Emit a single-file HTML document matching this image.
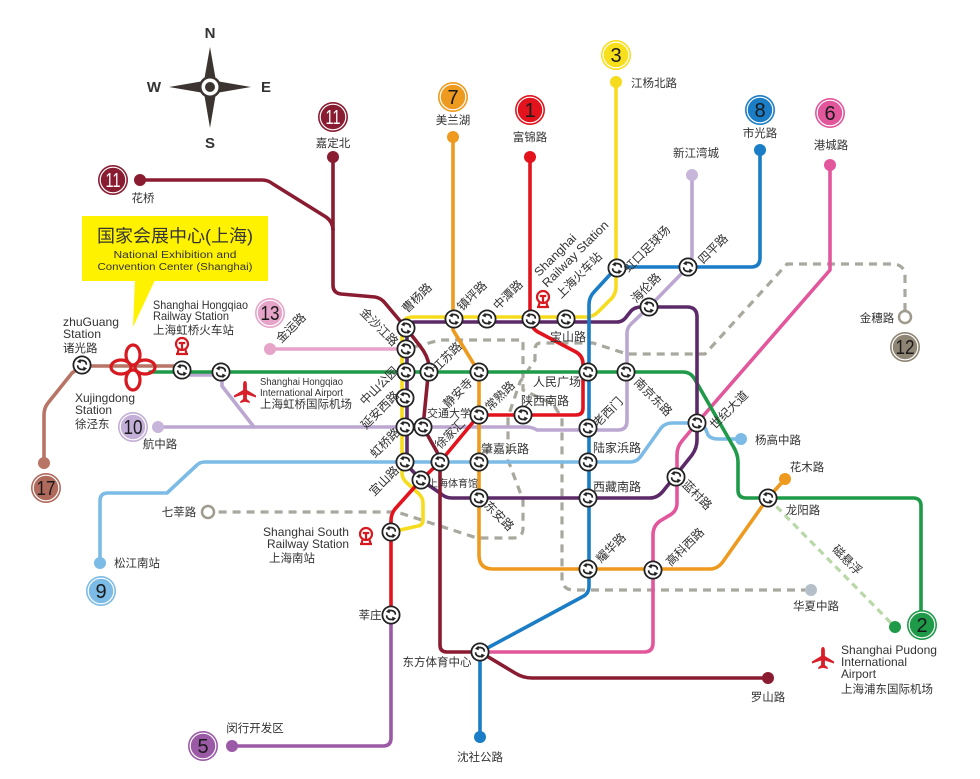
<!DOCTYPE html>
<html><head><meta charset="utf-8"><style>
html,body{margin:0;padding:0;background:#fff}
svg{display:block}
text{font-family:"Liberation Sans","Noto Sans CJK SC",sans-serif;fill:#333}
.l{font-size:11.5px}
.s{font-size:12px}
.en{font-size:12px}
.bn{font-size:20px;fill:#1a1a1a}
</style></head><body>
<svg width="980" height="779" viewBox="0 0 980 779" xmlns="http://www.w3.org/2000/svg">
<defs>
<g id="ic">
<circle r="8.6" fill="#fff" stroke="#222" stroke-width="1.8"/>
<path d="M4.3,-0.3 C4.6,-4.2 0,-5.2 -2.2,-3.9" fill="none" stroke="#222" stroke-width="1.7"/>
<path d="M-5,-3.2 L-1.6,-6.2 L-1.2,-1.6Z" fill="#222"/>
<path d="M-4.3,0.3 C-4.6,4.2 0,5.2 2.2,3.9" fill="none" stroke="#222" stroke-width="1.7"/>
<path d="M5,3.2 L1.6,6.2 L1.2,1.6Z" fill="#222"/>
</g>
<g id="train" fill="none" stroke="#d71920" stroke-width="2.2">
<circle cx="0" cy="-3" r="6"/>
<path d="M-3.2,-4 H3.2 M0,-4 V3"/>
<path d="M-6,7 H6 M-3.5,2.5 L-4.5,7 M3.5,2.5 L4.5,7"/>
</g>
<path id="plane" fill="#d81e28" d="M0,-11 C1.6,-11 1.9,-9 1.9,-7 L1.9,-2 L11,3.5 L11,5.5 L1.9,2.5 L1.9,7 L4.8,9.5 L4.8,11 L0,9.7 L-4.8,11 L-4.8,9.5 L-1.9,7 L-1.9,2.5 L-11,5.5 L-11,3.5 L-1.9,-2 L-1.9,-7 C-1.9,-9 -1.6,-11 0,-11Z"/>
</defs>

<!-- Compass -->
<path d="M210,47 L216,81 L251,87 L216,93 L210,128 L204,93 L169,87 L204,81 Z" fill="#3b3431"/>
<circle cx="210" cy="87" r="11" fill="#3b3431"/>
<circle cx="210" cy="87" r="8.5" fill="#fff"/>
<circle cx="210" cy="87" r="5" fill="#3b3431"/>
<text x="210" y="38" text-anchor="middle" font-size="15" font-weight="bold" style="fill:#333">N</text>
<text x="210" y="148" text-anchor="middle" font-size="15" font-weight="bold" style="fill:#333">S</text>
<text x="266" y="92" text-anchor="middle" font-size="15" font-weight="bold" style="fill:#333">E</text>
<text x="154" y="92" text-anchor="middle" font-size="15" font-weight="bold" style="fill:#333">W</text>

<!-- Callout -->
<rect x="82" y="216" width="186" height="65" fill="#fff200"/>
<polygon points="135,280 155,280 133,327" fill="#fff200"/>
<text x="175" y="242" text-anchor="middle" font-size="17.5" textLength="156" lengthAdjust="spacingAndGlyphs">国家会展中心(上海)</text>
<text x="175" y="258" text-anchor="middle" font-size="10" textLength="123" lengthAdjust="spacingAndGlyphs">National Exhibition and</text>
<text x="175" y="270" text-anchor="middle" font-size="10" textLength="155" lengthAdjust="spacingAndGlyphs">Convention Center (Shanghai)</text>

<!-- Dashed lines -->
<g fill="none" stroke="#a9a89e" stroke-width="3.2" stroke-dasharray="8,6">
<path d="M905,311 V277 Q905,264 892,264 H787 L705,354 H627 L593,343 H541 Q535,343 535,350 V360 L520,382 L508,417 V460 L523,500 V528 Q523,538 513,538 H477 L397,512 H214"/>
<path d="M414,347 L440,340 H523 V390 L553,404 L562,418 V578 Q562,590 574,590 H805"/>
</g>
<path d="M768,498 L895,627" fill="none" stroke="#b9d8a8" stroke-width="3.2" stroke-dasharray="7,5"/>

<!-- Metro lines -->
<g fill="none" stroke-width="3.6" stroke-linejoin="round" stroke-linecap="round">
<path stroke="#b87465" d="M182,366 H82 L72,373 L48,403 Q44,408 44,415 V463"/>
<path stroke="#e6a4c8" d="M270,349 H406"/>
<path stroke="#bba7d0" d="M158,427 H527 Q532,427 537,430 H618 Q627,430 627,421 V333 Q627,328 631,324 L649,307 L688,267 Q692,262 692,255 V175"/>
<path stroke="#bba7d0" d="M182,375 H216 Q222,375 222,381 V386 L254,427"/>
<path stroke="#7cbbe5" d="M100,563 V501 Q100,493 108,493 H167 L197,465 Q200,462 205,462 H630 Q637,462 641,456 L661,428 Q665,423 672,423 H697 Q703,423 706,430 L708,435 Q711,439 718,439 H741"/>
<path stroke="#e2569c" d="M830,165 V270 L697,423 L682,441 Q677,447 677,455 V503 Q677,511 670,515 L660,521 Q653,526 653,535 V643 Q653,652 644,652 H480"/>
<path stroke="#1f9a48" d="M150,372 H683 Q690,372 694,378 L733,446 Q738,454 738,462 V490 Q738,498 746,498 H913 Q921,498 921,506 V625"/>
<path stroke="#ee9a1e" d="M453,137 V330 L475,366 Q479,372 479,380 V555 Q479,569 493,569 H710 Q717,569 722,563 L768,498 L785,479"/>
<path stroke="#5d2a69" d="M421,480 L407,465 V330 Q407,322 415,322 H617 Q623,322 627,316 L631,311 Q635,307 641,307 H687 Q697,307 697,317 V440 Q697,448 692,455 L664,490 Q658,498 650,498 H452 Q445,498 440,493 Z"/>
<path stroke="#f6dc1d" d="M616,82 V287 Q616,293 612,298 L598,312 Q593,317 586,317 H413 Q402,317 402,328 V473 Q402,478 406,482 L419,494 Q423,498 423,503 V520 Q423,525 418,526 L391,532"/>
<path stroke="#1a7dc5" d="M760,150 V258 Q760,267 751,267 H617 L594,292 Q589,297 589,305 V586 Q589,594 582,597 L480,652 V737"/>
<path stroke="#e2131d" d="M530,157 V319 Q531,328 538,332 L576,352 Q583,356 583,364 V408 Q583,415 576,415 H479 L440,462 L421,480 L395,509 Q391,514 391,521 V615"/>
<path stroke="#9b5aa6" d="M391,615 V738 Q391,746 383,746 H232"/>
<path stroke="#8a1c31" d="M140,180 H262 Q268,180 273,184 L326,217 Q333,222 333,230"/>
<path stroke="#8a1c31" d="M333,157 V285 Q333,293 341,294 L375,297 Q381,298 385,303 L406,328 L420,346 Q428,356 429,366 L423,427 L437,452 Q440,457 440,465 V645 Q440,652 447,652 H480 L515,673 Q523,678 532,678 H768"/>
</g>

<!-- Terminal dots -->
<circle cx="140" cy="180" r="6" fill="#8a1c31"/>
<circle cx="333" cy="157" r="6" fill="#8a1c31"/>
<circle cx="453" cy="137" r="6" fill="#ee9a1e"/>
<circle cx="530" cy="157" r="6" fill="#e2131d"/>
<circle cx="616" cy="82" r="6" fill="#f6dc1d"/>
<circle cx="692" cy="175" r="6" fill="#c7b5da"/>
<circle cx="760" cy="150" r="6" fill="#1a7dc5"/>
<circle cx="830" cy="165" r="6" fill="#e2569c"/>
<circle cx="270" cy="349" r="6" fill="#e6a4c8"/>
<circle cx="158" cy="427" r="6" fill="#c7b5da"/>
<circle cx="44" cy="463" r="6" fill="#b87465"/>
<circle cx="100" cy="563" r="6" fill="#7cbbe5"/>
<circle cx="232" cy="746" r="6" fill="#9b5aa6"/>
<circle cx="895" cy="627" r="6" fill="#1f9a48"/>
<circle cx="768" cy="678" r="6" fill="#8a1c31"/>
<circle cx="480" cy="737" r="6" fill="#1a7dc5"/>
<circle cx="811" cy="590" r="6" fill="#b4bfc9"/>
<circle cx="785" cy="479" r="6" fill="#ee9a1e"/>
<circle cx="741" cy="439" r="6" fill="#7cbbe5"/>
<circle cx="905" cy="317" r="6" fill="#fff" stroke="#9e9a8c" stroke-width="2.5"/>
<circle cx="208" cy="512" r="6" fill="#fff" stroke="#9e9a8c" stroke-width="2.5"/>

<!-- Badges -->
<g>
<g transform="translate(113,180)"><circle r="15" fill="#8a1c31"/><circle r="12.8" fill="none" stroke="#fff" stroke-width="1.2"/><text y="7" text-anchor="middle" class="bn" style="fill:#fff" textLength="15" lengthAdjust="spacingAndGlyphs">11</text></g>
<g transform="translate(333,117)"><circle r="15" fill="#8a1c31"/><circle r="12.8" fill="none" stroke="#fff" stroke-width="1.2"/><text y="7" text-anchor="middle" class="bn" style="fill:#fff" textLength="15" lengthAdjust="spacingAndGlyphs">11</text></g>
<g transform="translate(453,97)"><circle r="15" fill="#ee9a1e"/><circle r="12.8" fill="none" stroke="#fff" stroke-width="1.2"/><text y="7" text-anchor="middle" class="bn">7</text></g>
<g transform="translate(530,110)"><circle r="15" fill="#e2131d"/><circle r="12.8" fill="none" stroke="#fff" stroke-width="1.2"/><text y="7" text-anchor="middle" class="bn">1</text></g>
<g transform="translate(616,55)"><circle r="15" fill="#f8df1c"/><circle r="12.8" fill="none" stroke="#fff" stroke-width="1.2"/><text y="7" text-anchor="middle" class="bn">3</text></g>
<g transform="translate(760,110)"><circle r="15" fill="#1a7dc5"/><circle r="12.8" fill="none" stroke="#fff" stroke-width="1.2"/><text y="7" text-anchor="middle" class="bn">8</text></g>
<g transform="translate(830,113)"><circle r="15" fill="#e2569c"/><circle r="12.8" fill="none" stroke="#fff" stroke-width="1.2"/><text y="7" text-anchor="middle" class="bn">6</text></g>
<g transform="translate(270,313)"><circle r="15" fill="#e6a4c8"/><circle r="12.8" fill="none" stroke="#fff" stroke-width="1.2"/><text y="7" text-anchor="middle" class="bn" textLength="19" lengthAdjust="spacingAndGlyphs">13</text></g>
<g transform="translate(905,347)"><circle r="15" fill="#8e8473"/><circle r="12.8" fill="none" stroke="#fff" stroke-width="1.2"/><text y="7" text-anchor="middle" class="bn" textLength="19" lengthAdjust="spacingAndGlyphs">12</text></g>
<g transform="translate(133,427)"><circle r="15" fill="#c2aed6"/><circle r="12.8" fill="none" stroke="#fff" stroke-width="1.2"/><text y="7" text-anchor="middle" class="bn" textLength="19" lengthAdjust="spacingAndGlyphs">10</text></g>
<g transform="translate(46,488)"><circle r="15" fill="#b06a5c"/><circle r="12.8" fill="none" stroke="#fff" stroke-width="1.2"/><text y="7" text-anchor="middle" class="bn" textLength="19" lengthAdjust="spacingAndGlyphs">17</text></g>
<g transform="translate(101,591)"><circle r="15" fill="#7cbbe5"/><circle r="12.8" fill="none" stroke="#fff" stroke-width="1.2"/><text y="7" text-anchor="middle" class="bn">9</text></g>
<g transform="translate(203,746)"><circle r="15" fill="#9b5aa6"/><circle r="12.8" fill="none" stroke="#fff" stroke-width="1.2"/><text y="7" text-anchor="middle" class="bn">5</text></g>
<g transform="translate(922,625)"><circle r="15" fill="#1f9a48"/><circle r="12.8" fill="none" stroke="#fff" stroke-width="1.2"/><text y="7" text-anchor="middle" class="bn">2</text></g>
</g>

<!-- Exhibition flower -->
<g fill="none" stroke="#d71920" stroke-width="3.2">
<ellipse cx="133" cy="355" rx="7" ry="10"/>
<ellipse cx="133" cy="380" rx="7" ry="10"/>
<ellipse cx="121" cy="367" rx="10" ry="7"/>
<ellipse cx="145" cy="367" rx="10" ry="7"/>
</g>

<!-- Icons -->
<use href="#train" transform="translate(182,347)"/>
<use href="#train" transform="translate(543,300)"/>
<use href="#train" transform="translate(366,537)"/>
<use href="#plane" transform="translate(245,392)"/>
<use href="#plane" transform="translate(823,658)"/>

<!-- Interchanges -->
<use href="#ic" transform="translate(82,365)"/>
<use href="#ic" transform="translate(182,370)"/>
<use href="#ic" transform="translate(221,372)"/>
<use href="#ic" transform="translate(406,328)"/>
<use href="#ic" transform="translate(406,349)"/>
<use href="#ic" transform="translate(406,372)"/>
<use href="#ic" transform="translate(429,372)"/>
<use href="#ic" transform="translate(405,398)"/>
<use href="#ic" transform="translate(405,427)"/>
<use href="#ic" transform="translate(423,427)"/>
<use href="#ic" transform="translate(405,462)"/>
<use href="#ic" transform="translate(440,462)"/>
<use href="#ic" transform="translate(421,480)"/>
<use href="#ic" transform="translate(454,319)"/>
<use href="#ic" transform="translate(487,319)"/>
<use href="#ic" transform="translate(531,319)"/>
<use href="#ic" transform="translate(566,319)"/>
<use href="#ic" transform="translate(479,372)"/>
<use href="#ic" transform="translate(479,415)"/>
<use href="#ic" transform="translate(523,415)"/>
<use href="#ic" transform="translate(479,462)"/>
<use href="#ic" transform="translate(479,498)"/>
<use href="#ic" transform="translate(588,372)"/>
<use href="#ic" transform="translate(626,372)"/>
<use href="#ic" transform="translate(588,428)"/>
<use href="#ic" transform="translate(588,462)"/>
<use href="#ic" transform="translate(588,498)"/>
<use href="#ic" transform="translate(588,569)"/>
<use href="#ic" transform="translate(653,570)"/>
<use href="#ic" transform="translate(676,477)"/>
<use href="#ic" transform="translate(697,423)"/>
<use href="#ic" transform="translate(768,498)"/>
<use href="#ic" transform="translate(617,268)"/>
<use href="#ic" transform="translate(688,267)"/>
<use href="#ic" transform="translate(649,307)"/>
<use href="#ic" transform="translate(391,532)"/>
<use href="#ic" transform="translate(391,615)"/>
<use href="#ic" transform="translate(480,652)"/>

<!-- Terminal labels -->
<g class="l" text-anchor="middle">
<text x="143" y="202">花桥</text>
<text x="333" y="147">嘉定北</text>
<text x="453" y="124">美兰湖</text>
<text x="530" y="141">富锦路</text>
<text x="654" y="87">江杨北路</text>
<text x="696" y="157">新江湾城</text>
<text x="760" y="137">市光路</text>
<text x="831" y="149">港城路</text>
<text x="877" y="322">金穗路</text>
<text x="778" y="444">杨高中路</text>
<text x="807" y="471">花木路</text>
<text x="803" y="514">龙阳路</text>
<text x="816" y="610">华夏中路</text>
<text x="768" y="701">罗山路</text>
<text x="480" y="761">沈社公路</text>
<text x="437" y="666">东方体育中心</text>
<text x="370" y="619">莘庄</text>
<text x="255" y="732">闵行开发区</text>
<text x="137" y="567">松江南站</text>
<text x="179" y="516">七莘路</text>
<text x="160" y="448">航中路</text>
</g>

<!-- English / station blocks -->
<g class="en">
<text x="63" y="326" textLength="56" lengthAdjust="spacingAndGlyphs">zhuGuang</text>
<text x="63" y="338" textLength="38" lengthAdjust="spacingAndGlyphs">Station</text>
<text x="63" y="352" font-size="11.5">诸光路</text>
<text x="153" y="309" textLength="95" lengthAdjust="spacingAndGlyphs">Shanghai Hongqiao</text>
<text x="153" y="320" textLength="76" lengthAdjust="spacingAndGlyphs">Railway Station</text>
<text x="153" y="334" font-size="11.5" textLength="81" lengthAdjust="spacingAndGlyphs">上海虹桥火车站</text>
<text x="75" y="402" textLength="60" lengthAdjust="spacingAndGlyphs">Xujingdong</text>
<text x="75" y="414" textLength="37" lengthAdjust="spacingAndGlyphs">Station</text>
<text x="75" y="428" font-size="11.5">徐泾东</text>
<text x="260" y="385" font-size="10" textLength="83" lengthAdjust="spacingAndGlyphs">Shanghai Hongqiao</text>
<text x="260" y="396" font-size="10" textLength="83" lengthAdjust="spacingAndGlyphs">International Airport</text>
<text x="260" y="408" font-size="11.5" textLength="92" lengthAdjust="spacingAndGlyphs">上海虹桥国际机场</text>
<text x="263" y="536" textLength="86" lengthAdjust="spacingAndGlyphs">Shanghai South</text>
<text x="267" y="548" textLength="82" lengthAdjust="spacingAndGlyphs">Railway Station</text>
<text x="269" y="562" font-size="11.5" textLength="46" lengthAdjust="spacingAndGlyphs">上海南站</text>
<text x="841" y="654" textLength="96" lengthAdjust="spacingAndGlyphs">Shanghai Pudong</text>
<text x="841" y="666" textLength="66" lengthAdjust="spacingAndGlyphs">International</text>
<text x="841" y="678" textLength="35" lengthAdjust="spacingAndGlyphs">Airport</text>
<text x="841" y="693" font-size="11.5" textLength="92" lengthAdjust="spacingAndGlyphs">上海浦东国际机场</text>
<text transform="translate(539,277) rotate(-45)" textLength="54" lengthAdjust="spacingAndGlyphs">Shanghai</text>
<text transform="translate(547,288) rotate(-45)" textLength="88" lengthAdjust="spacingAndGlyphs">Railway Station</text>
<text transform="translate(561,299) rotate(-45)" textLength="59" lengthAdjust="spacingAndGlyphs">上海火车站</text>
</g>

<!-- Interchange labels rotated -45 -->
<g class="s" text-anchor="middle">
<text transform="translate(417,298) rotate(-45)" dy="4">曹杨路</text>
<text transform="translate(379,386) rotate(-45)" dy="4">中山公园</text>
<text transform="translate(380,410) rotate(-45)" dy="4">延安西路</text>
<text transform="translate(385,443) rotate(-45)" dy="4">虹桥路</text>
<text transform="translate(384,481) rotate(-45)" dy="4">宜山路</text>
<text transform="translate(447,357) rotate(-45)" dy="4">江苏路</text>
<text transform="translate(472,296) rotate(-45)" dy="4">镇坪路</text>
<text transform="translate(508,295) rotate(-45)" dy="4">中潭路</text>
<text transform="translate(647,249) rotate(-45)" dy="4">虹口足球场</text>
<text transform="translate(713,249) rotate(-45)" dy="4">四平路</text>
<text transform="translate(646,288) rotate(-45)" dy="4">海伦路</text>
<text transform="translate(458,393) rotate(-45)" dy="4">静安寺</text>
<text transform="translate(500,396) rotate(-45)" dy="4">常熟路</text>
<text transform="translate(608,412) rotate(-45)" dy="4">老西门</text>
<text transform="translate(450,434) rotate(-45)" dy="4">徐家汇</text>
<text transform="translate(611,548) rotate(-45)" dy="4">耀华路</text>
<text transform="translate(685,547) rotate(-45)" dy="4">高科西路</text>
<text transform="translate(729,410) rotate(-45)" dy="4">世纪大道</text>
<text transform="translate(291,328) rotate(-45)" dy="4">金运路</text>
<text transform="translate(379,327) rotate(45)" dy="4">金沙江路</text>
<text transform="translate(653,397) rotate(45)" dy="4">南京东路</text>
<text transform="translate(499,516) rotate(45)" dy="4">东安路</text>
<text transform="translate(697,495) rotate(45)" dy="4">蓝村路</text>
<text transform="translate(847,560) rotate(45)" dy="4">磁悬浮</text>
<text x="568" y="341">宝山路</text>
<text x="545" y="405">陕西南路</text>
<text x="557" y="386">人民广场</text>
<text x="617" y="452">陆家浜路</text>
<text x="617" y="491">西藏南路</text>
<text x="449" y="417" font-size="11">交通大学</text>
<text x="505" y="453">肇嘉浜路</text>
<text x="453" y="487" font-size="10">上海体育馆</text>
</g>
</svg>
</body></html>
